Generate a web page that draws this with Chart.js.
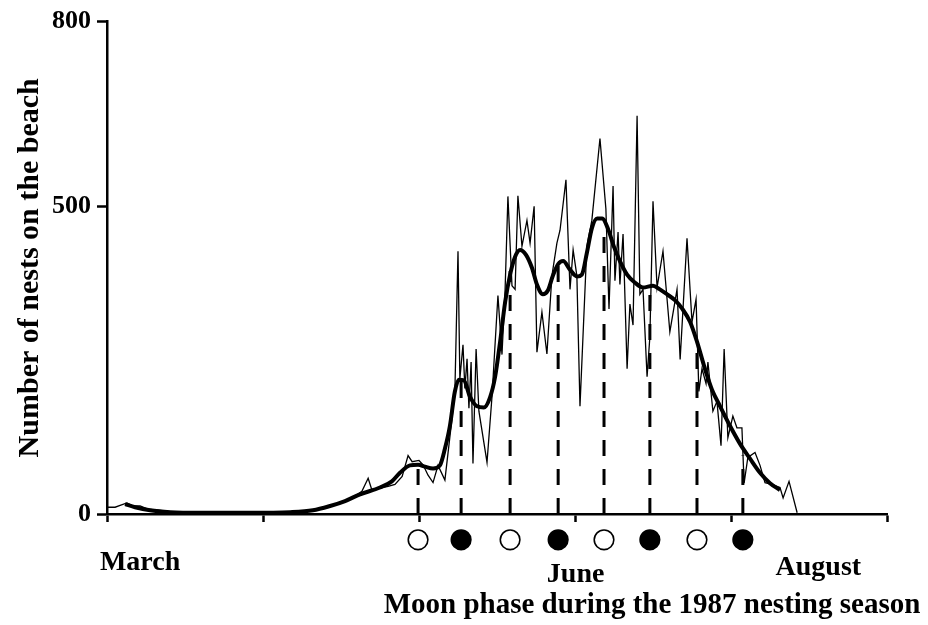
<!DOCTYPE html>
<html><head><meta charset="utf-8">
<script src="https://cdn.jsdelivr.net/npm/chart.js@4/dist/chart.umd.min.js"></script>
<style>html,body{margin:0;padding:0;background:#fff;}canvas{display:block;}</style>
</head><body>
<canvas id="c" width="928" height="625" style="width:928px;height:625px"></canvas>
<script>
// ---- data (x in days from start of axis) ----
const dailyDay = [0, 2.6, 4.2, 6.4, 8.3, 10.6, 13.1, 17.0, 21.8, 29.8,
  39.4, 49.0, 58.7, 61.9, 66.0, 69.9, 73.1, 76.3, 79.5, 81.7,
  83.7, 84.9, 87.5, 90.1, 92.3, 94.6, 96.5, 97.8, 100.0, 101.3,
  102.9, 104.5, 106.1, 108.3, 110.6, 111.5, 112.5, 113.1, 114.1, 114.7,
  115.4, 116.0, 116.7, 117.3, 118.3, 119.2, 121.8, 123.4, 125.3, 126.6,
  127.6, 128.5, 129.8, 130.8, 131.7, 133.0, 134.6, 135.6, 136.9, 137.8,
  139.4, 141.0, 142.6, 144.2, 145.2, 147.1, 148.4, 149.4, 150.6, 151.6,
  153.8, 155.4, 158.0, 159.9, 160.9, 162.2, 162.8, 163.8, 164.4, 165.4,
  166.7, 167.6, 168.6, 169.9, 170.8, 171.8, 173.1, 174.0, 175.0, 176.3,
  178.2, 180.4, 182.7, 183.7, 185.9, 187.5, 188.8, 189.7, 190.7, 192.0,
  192.6, 194.2, 195.5, 196.8, 197.8, 199.0, 200.6, 201.9, 203.5, 204.2,
  205.4, 207.7, 209.3, 210.9, 213.1, 215.7, 216.7, 218.6, 221.2];
const dailyNests = [11, 11, 14, 18, 13, 13, 8, 6, 3, 3,
  2, 3, 3, 5, 6, 11, 16, 22, 29, 37,
  58, 39, 42, 45, 48, 61, 95, 85, 87, 80,
  63, 51, 79, 55, 156, 199, 427, 220, 275, 204,
  252, 172, 247, 82, 268, 167, 84, 191, 355, 259,
  365, 516, 371, 365, 517, 435, 477, 440, 500, 263,
  328, 260, 387, 440, 461, 543, 365, 429, 387, 175,
  435, 477, 610, 496, 333, 533, 379, 458, 373, 455,
  236, 341, 307, 647, 357, 365, 223, 288, 508, 368,
  427, 296, 365, 251, 448, 312, 349, 199, 236, 212,
  247, 167, 183, 111, 268, 124, 159, 140, 140, 50,
  92, 100, 79, 51, 48, 43, 26, 53, 2];
const smoothDay = [5.8, 9.0, 13.8, 20.2, 29.8, 45.8, 58.7, 66.0, 71.5, 76.3,
  81.1, 87.5, 91.3, 93.9, 97.1, 99.7, 101.9, 104.5, 106.7, 108.3,
  109.9, 111.5, 112.8, 114.4, 116.3, 118.6, 120.8, 122.8, 124.4, 126.0,
  127.6, 129.2, 130.8, 132.4, 134.3, 136.2, 137.8, 139.7, 141.3, 142.9,
  144.6, 146.2, 148.4, 150.6, 152.2, 153.8, 155.4, 157.1, 158.7, 160.6,
  162.5, 164.4, 166.7, 169.2, 171.8, 175.0, 177.2, 179.5, 182.1, 184.3,
  186.9, 189.1, 191.7, 193.9, 196.5, 199.7, 202.9, 206.1, 209.3, 212.5, 215.7];
const smoothNests = [16, 11, 6, 3, 2, 2, 3, 6, 13, 21,
  32, 43, 53, 67, 79, 80, 77, 74, 79, 106,
  143, 199, 218, 217, 191, 175, 173, 190, 223, 280,
  344, 389, 418, 429, 421, 400, 373, 357, 363, 387,
  406, 411, 397, 386, 389, 424, 464, 480, 480, 463,
  434, 411, 389, 376, 368, 371, 365, 357, 347, 334,
  312, 280, 235, 202, 175, 143, 114, 90, 67, 50, 39];
const moonDay = [99.7, 113.5, 129.2, 144.6, 159.3, 174.0, 189.1, 203.8];
const moonLevel = [82, 215, 395, 405, 458, 360, 280, 95];
const moonPhase = ['full', 'new', 'full', 'new', 'full', 'new', 'full', 'new'];
const yTickValues = [0, 500, 800];
const xTickStep = 50;
const monthNames = ['March', 'June', 'August'];
const monthDay = [10.6, 150.2, 228];
const xTitle = 'Moon phase during the 1987 nesting season';
const yTitle = 'Number of nests on the beach';

// ---- styling / layout ----
const FONT = "'Liberation Serif', 'Times New Roman', serif";
const MOON_ROW = -42; // row of moon symbols below the axis (in y units)
const pts = (xs, ys) => xs.map((x, i) => ({x: x, y: ys[i]}));

const datasets = [
  {type: 'line', label: 'smoothed', data: pts(smoothDay, smoothNests), borderColor: '#000',
   borderWidth: 4, pointRadius: 0, cubicInterpolationMode: 'monotone', fill: false, order: 0},
  {type: 'line', label: 'daily', data: pts(dailyDay, dailyNests), borderColor: '#000',
   borderWidth: 1.3, pointRadius: 0, tension: 0, fill: false, order: 1}
];
moonDay.forEach((d, i) => datasets.push({
  type: 'line', label: 'phase' + i, data: [{x: d, y: 0}, {x: d, y: moonLevel[i]}],
  borderColor: '#000', borderWidth: 3, borderDash: [16, 13], pointRadius: 0, fill: false, order: 2
}));
const MOON_INDEX = datasets.length;
datasets.push({
  type: 'scatter', label: 'moon', data: moonDay.map(d => ({x: d, y: MOON_ROW})),
  pointRadius: 9.8, pointBackgroundColor: moonPhase.map(p => p === 'new' ? '#000' : '#fff'),
  pointBorderColor: '#000', pointBorderWidth: 1.6, clip: false, order: 0
});

// moon symbols sit below the plot area: draw the library's point elements with the full canvas as area
const moonPlugin = {
  id: 'moonRow',
  afterDatasetsDraw(chart) {
    const meta = chart.getDatasetMeta(MOON_INDEX);
    const full = {left: 0, top: 0, right: chart.width, bottom: chart.height};
    chart.ctx.save();
    meta.data.forEach(p => p.draw(chart.ctx, full));
    chart.ctx.restore();
  }
};

const textPlugin = {
  id: 'axisText',
  afterDraw(chart) {
    const {ctx, chartArea, scales} = chart;
    const x = scales.x;
    const drops = [56, 68, 61];
    ctx.save();
    ctx.fillStyle = '#000';
    ctx.textAlign = 'center';
    ctx.textBaseline = 'alphabetic';
    ctx.font = 'bold 28px ' + FONT;
    monthNames.forEach((m, i) => ctx.fillText(m, x.getPixelForValue(monthDay[i]), chartArea.bottom + drops[i]));
    ctx.font = 'bold 29px ' + FONT;
    ctx.fillText(xTitle, chartArea.left + 545, chartArea.bottom + 99);
    ctx.restore();
  }
};

new Chart(document.getElementById('c'), {
  type: 'line',
  data: {datasets: datasets},
  plugins: [moonPlugin, textPlugin],
  options: {
    responsive: false, animation: false, devicePixelRatio: 1,
    layout: {padding: {left: 0, right: 41, top: 16, bottom: 0}},
    plugins: {legend: {display: false}, tooltip: {enabled: false}},
    scales: {
      x: {
        type: 'linear', min: 0, max: 250,
        ticks: {stepSize: xTickStep, callback: () => '', padding: 0},
        grid: {drawOnChartArea: false, drawTicks: true, tickLength: 8, tickWidth: 2.5, tickColor: '#000'},
        border: {display: true, color: '#000', width: 2.5},
        afterFit: s => { s.height = 111; }
      },
      y: {
        type: 'linear', min: 0, max: 800,
        afterBuildTicks: s => { s.ticks = yTickValues.map(v => ({value: v})); },
        ticks: {color: '#000', font: {family: FONT, size: 26, weight: 'bold'}, padding: 6},
        grid: {drawOnChartArea: false, drawTicks: true, tickLength: 10, tickWidth: 2.5, tickColor: '#000'},
        border: {display: true, color: '#000', width: 2.5},
        title: {display: true, text: yTitle, color: '#000',
                font: {family: FONT, size: 30, weight: 'bold', lineHeight: 1}, padding: {top: 15, bottom: 0}},
        afterFit: s => { s.width = 107; }
      }
    }
  }
});
</script>
</body></html>
